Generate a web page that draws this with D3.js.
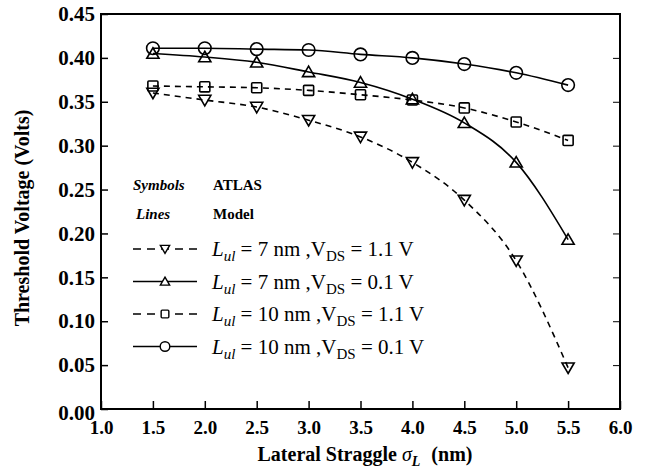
<!DOCTYPE html>
<html>
<head>
<meta charset="utf-8">
<script src="https://cdn.jsdelivr.net/npm/d3@7"></script>
<style>
body { margin: 0; background: #fff; }
text { font-family: "Liberation Serif", "Times New Roman", serif; }
</style>
</head>
<body>
<div id="chart"></div>
<script>
// Data
var sigmaL = [1.5, 2.0, 2.5, 3.0, 3.5, 4.0, 4.5, 5.0, 5.5];
var vt7nmHigh = [0.360, 0.352, 0.344, 0.329, 0.310, 0.281, 0.238, 0.169, 0.047];
var vt7nmLow = [0.405, 0.401, 0.395, 0.384, 0.372, 0.353, 0.326, 0.281, 0.193];
var vt10nmHigh = [0.368, 0.367, 0.366, 0.363, 0.358, 0.352, 0.343, 0.327, 0.306];
var vt10nmLow = [0.411, 0.411, 0.410, 0.409, 0.404, 0.400, 0.393, 0.383, 0.369];
var xTicks = [1.0, 1.5, 2.0, 2.5, 3.0, 3.5, 4.0, 4.5, 5.0, 5.5, 6.0];
var yTicks = [0.00, 0.05, 0.10, 0.15, 0.20, 0.25, 0.30, 0.35, 0.40, 0.45];

var series = [
  { vals: vt7nmHigh, sym: "down", dash: "6,5", lul: "7", vds: "1.1" },
  { vals: vt7nmLow, sym: "up", dash: null, lul: "7", vds: "0.1" },
  { vals: vt10nmHigh, sym: "square", dash: "6,5", lul: "10", vds: "1.1" },
  { vals: vt10nmLow, sym: "circle", dash: null, lul: "10", vds: "0.1" }
];

var width = 650, height = 472;
// plot frame edges (note: "top" is reserved on window, so use prefixed names)
var pLeft = 101, pRight = 620, pTop = 14, pBottom = 409;

var svg = d3.select("#chart").append("svg")
  .attr("width", width)
  .attr("height", height);

var x = d3.scaleLinear().domain([1.0, 6.0]).range([pLeft, pRight]);
var y = d3.scaleLinear().domain([0, 0.45]).range([pBottom, pTop]);

// frame
svg.append("rect")
  .attr("x", pLeft).attr("y", pTop)
  .attr("width", pRight - pLeft).attr("height", pBottom - pTop)
  .attr("fill", "none").attr("stroke", "#000").attr("stroke-width", 2);

// axes with inward ticks
var xAxis = svg.append("g")
  .attr("transform", "translate(0," + pBottom + ")")
  .call(d3.axisBottom(x).tickValues(xTicks).tickSizeInner(-8).tickSizeOuter(0).tickPadding(10).tickFormat(d3.format(".1f")));
var yAxis = svg.append("g")
  .attr("transform", "translate(" + pLeft + ",0)")
  .call(d3.axisLeft(y).tickValues(yTicks).tickSizeInner(-7).tickSizeOuter(0).tickPadding(6).tickFormat(d3.format(".2f")));
svg.append("g")
  .attr("transform", "translate(" + pRight + ",0)")
  .call(d3.axisRight(y).tickValues(yTicks).tickSizeInner(-7).tickSizeOuter(0).tickFormat(""))
  .select(".domain").remove();

[xAxis, yAxis].forEach(function(a) {
  a.select(".domain").remove();
  a.selectAll("line").attr("stroke-width", 1.5);
  a.selectAll("text")
    .attr("font-family", "Liberation Serif")
    .attr("font-weight", "bold")
    .attr("fill", "#000");
});
xAxis.selectAll("text").attr("font-size", 19).attr("dy", "0.8em");
yAxis.selectAll("text").attr("font-size", 21);
// the 0.00 label sits slightly low
yAxis.selectAll(".tick text").filter(function(d) { return d === 0; }).attr("dy", "0.5em");

// axis titles
svg.append("text")
  .attr("transform", "translate(29,218) rotate(-90)")
  .attr("text-anchor", "middle")
  .attr("font-size", 20).attr("font-weight", "bold")
  .text("Threshold Voltage (Volts)");

var xt = svg.append("text")
  .attr("x", 365).attr("y", 461)
  .attr("text-anchor", "middle")
  .attr("font-size", 20).attr("font-weight", "bold");
xt.append("tspan").text("Lateral Straggle ");
xt.append("tspan").attr("font-style", "italic").attr("font-weight", "normal").text("σ");
xt.append("tspan").attr("font-style", "italic").attr("font-size", 14).attr("dy", 5).text("L");
xt.append("tspan").attr("dy", -5).attr("dx", 6).text(" (nm)");

// curves
var line = d3.line()
  .x(function(d) { return x(d[0]); })
  .y(function(d) { return y(d[1]); })
  .curve(d3.curveMonotoneX);

function drawSymbol(g, kind, cx, cy, s) {
  if (kind === "circle") {
    g.append("circle").attr("cx", cx).attr("cy", cy).attr("r", s * 0.6);
  } else if (kind === "square") {
    g.append("rect").attr("x", cx - s * 0.48).attr("y", cy - s * 0.48)
      .attr("width", s * 0.96).attr("height", s * 0.96).attr("rx", 1);
  } else {
    var h = s, w = s * 0.58;
    var dir = kind === "up" ? 1 : -1;
    g.append("path").attr("d",
      "M" + cx + "," + (cy - dir * h * 0.55) +
      "L" + (cx + w) + "," + (cy + dir * h * 0.45) +
      "L" + (cx - w) + "," + (cy + dir * h * 0.45) + "Z");
  }
}

series.forEach(function(s) {
  var pts = sigmaL.map(function(v, i) { return [v, s.vals[i]]; });
  svg.append("path")
    .datum(pts)
    .attr("d", line)
    .attr("fill", "none")
    .attr("stroke", "#000")
    .attr("stroke-width", 1.6)
    .attr("stroke-dasharray", s.dash);
  var g = svg.append("g").attr("fill", "none").attr("stroke", "#000").attr("stroke-width", 1.6);
  pts.forEach(function(p) {
    drawSymbol(g, s.sym, x(p[0]), y(p[1]), 10.5);
  });
});

// legend
var lg = svg.append("g");
lg.append("text").attr("x", 133).attr("y", 190).attr("font-size", 15).attr("font-style", "italic").attr("font-weight", "bold").text("Symbols");
lg.append("text").attr("x", 213).attr("y", 190).attr("font-size", 15).attr("font-weight", "bold").text("ATLAS");
lg.append("text").attr("x", 136).attr("y", 219).attr("font-size", 15).attr("font-style", "italic").attr("font-weight", "bold").text("Lines");
lg.append("text").attr("x", 213).attr("y", 219).attr("font-size", 15).attr("font-weight", "bold").text("Model");

series.forEach(function(s, i) {
  var ly = 249 + i * 32.5;
  lg.append("line")
    .attr("x1", 133).attr("x2", 197).attr("y1", ly).attr("y2", ly)
    .attr("stroke", "#000").attr("stroke-width", 1.6)
    .attr("stroke-dasharray", s.dash ? "8,6" : null);
  var sg = lg.append("g").attr("fill", "#fff").attr("stroke", "#000").attr("stroke-width", 1.4);
  drawSymbol(sg, s.sym, 165, ly, 8);
  var t = lg.append("text").attr("x", 212).attr("y", ly + 7).attr("font-size", 21);
  t.append("tspan").attr("font-style", "italic").text("L");
  t.append("tspan").attr("font-style", "italic").attr("font-size", 15).attr("dy", 5).text("ul");
  t.append("tspan").attr("dy", -5).text(" = " + s.lul + " nm ,V");
  t.append("tspan").attr("font-size", 15).attr("dy", 5).text("DS");
  t.append("tspan").attr("dy", -5).text(" = " + s.vds + " V");
});
</script>
</body>
</html>
